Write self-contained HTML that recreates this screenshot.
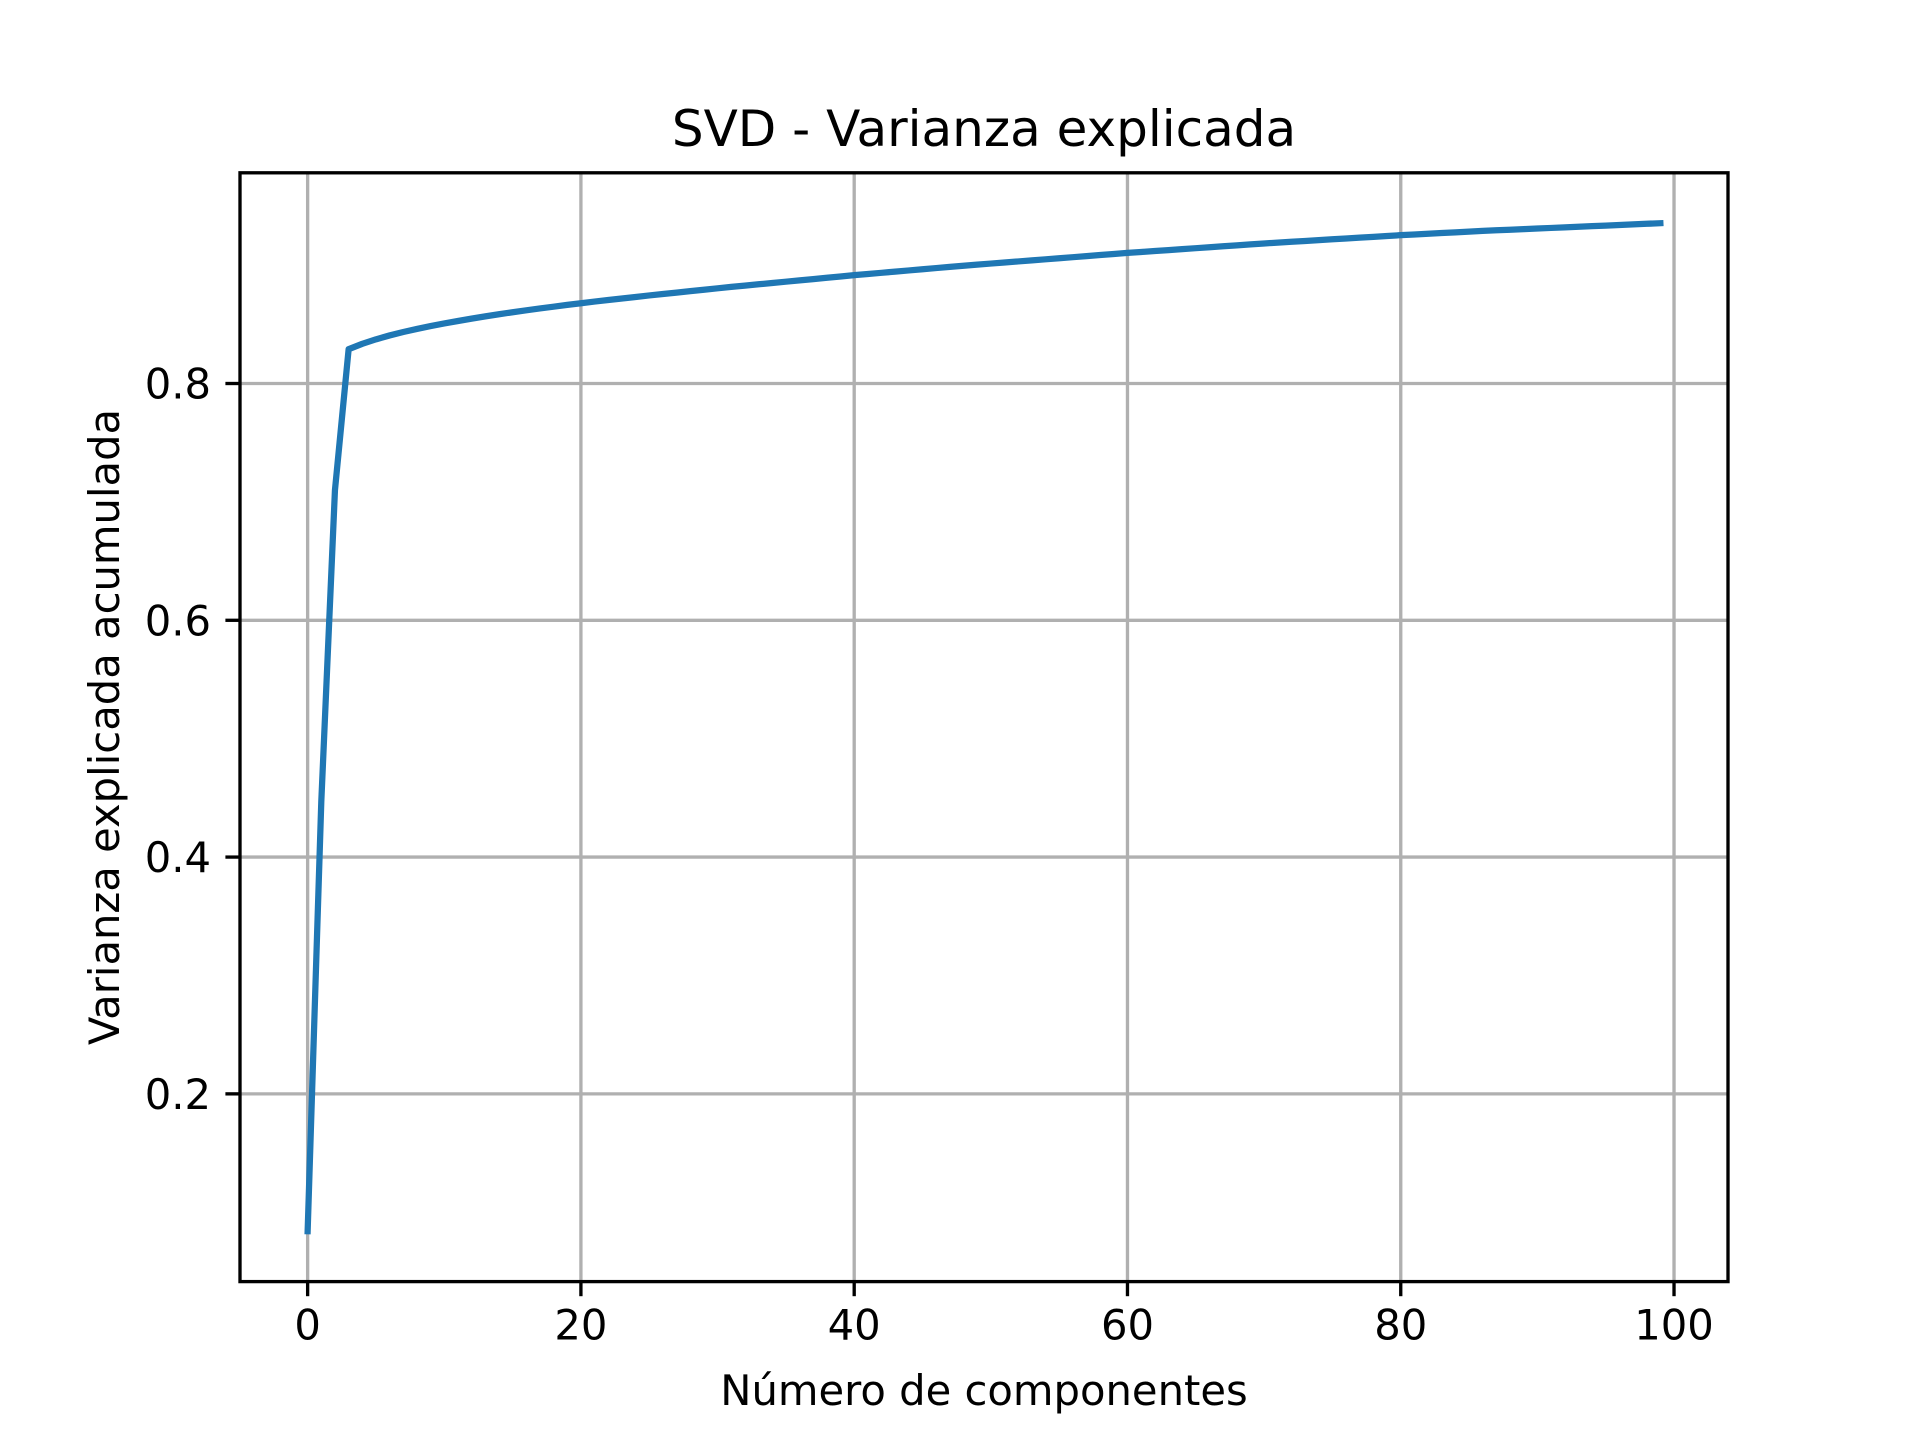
<!DOCTYPE html>
<html><head><meta charset="utf-8"><style>
html,body{margin:0;padding:0;background:#fff;}
svg{display:block;font-family:"DejaVu Sans","Liberation Sans",sans-serif;}
</style></head><body>
<svg id="chart" width="1920" height="1440" viewBox="0 0 1920 1440" xmlns="http://www.w3.org/2000/svg">
<rect width="1920" height="1440" fill="#fff"/>
<g id="grid"></g>
<g id="ticks"></g>
<path id="line" fill="none" stroke="#1f77b4" stroke-width="6.25" stroke-linejoin="round" stroke-linecap="square"/>
<rect x="240" y="172.8" width="1488" height="1108.8" fill="none" stroke="#000" stroke-width="3.33"/>
<text x="984" y="146" font-size="50" text-anchor="middle">SVD - Varianza explicada</text>
<text x="984" y="1405" font-size="41.7" text-anchor="middle">Número de componentes</text>
<text transform="translate(119,727) rotate(-90)" font-size="41.7" text-anchor="middle">Varianza explicada acumulada</text>
</svg>
<script>
const values = [0.0840,0.4470,0.7100,0.8290,0.8335,0.8373,0.8406,0.8435,0.8461,0.8485,
0.8507,0.8528,0.8548,0.8567,0.8585,0.8602,0.8618,0.8634,0.8649,0.8664,
0.8678,0.8692,0.8705,0.8718,0.8731,0.8744,0.8756,0.8768,0.8780,0.8792,
0.8804,0.8816,0.8827,0.8838,0.8849,0.8860,0.8871,0.8882,0.8893,0.8904,
0.8915,0.8925,0.8935,0.8945,0.8955,0.8965,0.8975,0.8985,0.8995,0.9004,
0.9013,0.9022,0.9031,0.9040,0.9049,0.9058,0.9067,0.9076,0.9085,0.9094,
0.9103,0.9111,0.9119,0.9127,0.9135,0.9143,0.9151,0.9159,0.9167,0.9175,
0.9183,0.9190,0.9197,0.9204,0.9211,0.9218,0.9225,0.9232,0.9239,0.9246,
0.9253,0.9259,0.9265,0.9271,0.9277,0.9283,0.9289,0.9294,0.9299,0.9304,
0.9309,0.9314,0.9319,0.9324,0.9329,0.9334,0.9339,0.9344,0.9349,0.9354];
const xTicks = [0,20,40,60,80,100];
const yTicks = [0.2,0.4,0.6,0.8];
const L=240,R=1728,T=172.8,B=1281.6;
const n=values.length;
const xmin=-(n-1)*0.05, xmax=(n-1)*1.05;
const vmin=Math.min(...values), vmax=Math.max(...values), pad=(vmax-vmin)*0.05;
const ymin=vmin-pad, ymax=vmax+pad;
const sx=v=>L+(v-xmin)/(xmax-xmin)*(R-L);
const sy=v=>B-(v-ymin)/(ymax-ymin)*(B-T);
const NS="http://www.w3.org/2000/svg";
const grid=document.getElementById('grid'), ticks=document.getElementById('ticks');
function mk(tag,attrs,parent){const e=document.createElementNS(NS,tag);for(const k in attrs)e.setAttribute(k,attrs[k]);parent.appendChild(e);return e;}
xTicks.forEach(t=>{
  const x=sx(t);
  const g=mk('line',{x1:x,x2:x,y1:T,y2:B,stroke:'#b0b0b0','stroke-width':3.33},grid);
  
  
  const tk=mk('line',{x1:x,x2:x,y1:B,y2:B+14.6,stroke:'#000','stroke-width':3.33},ticks);
  
  
  const tx=mk('text',{x:x,y:B+58,'font-size':41.7,'text-anchor':'middle'},ticks);
  tx.textContent=String(t);
  
  
});
yTicks.forEach(t=>{
  const y=sy(t);
  const g=mk('line',{x1:L,x2:R,y1:y,y2:y,stroke:'#b0b0b0','stroke-width':3.33},grid);
  
  
  const tk=mk('line',{x1:L-14.6,x2:L,y1:y,y2:y,stroke:'#000','stroke-width':3.33},ticks);
  
  
  const tx=mk('text',{x:L-29,y:y+15,'font-size':41.7,'text-anchor':'end'},ticks);
  tx.textContent=t.toFixed(1);
  
  
});
document.getElementById('line').setAttribute('d',values.map((v,i)=>(i?'L':'M')+sx(i).toFixed(2)+','+sy(v).toFixed(2)).join(''));
</script>
</body></html>
